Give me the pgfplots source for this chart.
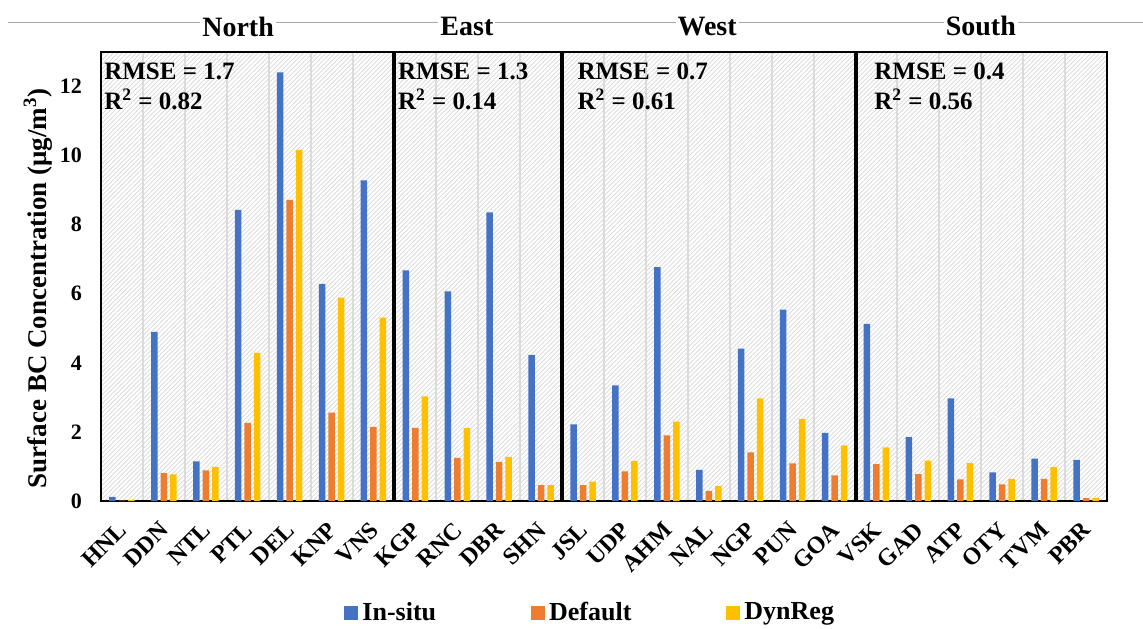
\documentclass[border=0pt]{standalone}
\usepackage{fontspec}
\setmainfont{Liberation Serif}
\usepackage{pgfplots}
\pgfplotsset{compat=1.18}
\usetikzlibrary{patterns.meta}
\definecolor{cblue}{HTML}{4472C4}
\definecolor{corange}{HTML}{ED7D31}
\definecolor{cyellow}{HTML}{FFC000}
\pgfplotstableread{
idx insitu default dynreg
0 0.12 0.01 0.03
1 4.90 0.81 0.77
2 1.15 0.89 0.99
3 8.43 2.26 4.29
4 12.41 8.72 10.17
5 6.29 2.56 5.89
6 9.28 2.15 5.31
7 6.68 2.12 3.03
8 6.07 1.25 2.12
9 8.36 1.13 1.28
10 4.23 0.46 0.46
11 2.22 0.46 0.56
12 3.35 0.86 1.16
13 6.77 1.90 2.30
14 0.90 0.29 0.43
15 4.41 1.41 2.97
16 5.54 1.09 2.38
17 1.97 0.74 1.61
18 5.13 1.07 1.55
19 1.85 0.78 1.17
20 2.97 0.63 1.10
21 0.83 0.48 0.64
22 1.23 0.64 0.99
23 1.19 0.08 0.09
}\datatable
\begin{document}
\begin{tikzpicture}
\begin{axis}[
  scale only axis,
  width=503pt, height=224.5pt,
  xmin=-0.5, xmax=23.5, ymin=0, ymax=13,
  ybar=1.5pt, bar width=3.25pt,
  xtick={0,...,23},
  xticklabels={HNL,DDN,NTL,PTL,DEL,KNP,VNS,KGP,RNC,DBR,SHN,JSL,UDP,AHM,NAL,NGP,PUN,GOA,VSK,GAD,ATP,OTY,TVM,PBR},
  minor xtick={-0.5,0.5,...,23.5},
  xminorgrids,
  minor grid style={black!14, line width=1pt},
  ytick={0,2,...,12},
  major tick length=0pt, minor tick length=0pt,
  axis line style={line width=0.9pt},
  /pgf/number format/assume math mode=true,
  yticklabel style={font=\fontsize{11}{13}\selectfont\bfseries, xshift=-6pt},
  xticklabel style={font=\fontsize{12}{14}\selectfont\bfseries, xshift=-2.5pt, yshift=-9.5pt, rotate=45, anchor=north east, inner sep=0pt},
  ylabel={Surface BC Concentration (μg/m\textsuperscript{3})},
  ylabel style={font=\fontsize{13.5}{15}\selectfont\bfseries, at={(axis description cs:-0.0626,0.474)}, rotate=0, anchor=center},
  axis background/.style={pattern={Lines[angle=45,distance=1.6pt,line width=0.35pt]}, pattern color=black!16},
  clip=false,
  legend columns=3,
  legend style={draw=none, fill=none, inner sep=0pt, font=\fontsize{13}{15}\selectfont\bfseries,
    at={(axis description cs:0.2416,-0.249)}, anchor=west,
    /tikz/every even column/.append style={column sep=45.5pt}},
  legend image code/.code={\fill[#1] (0pt,-3.5pt) rectangle (7pt,3.5pt);},
]
\addplot[draw=none, fill=cblue] table[x=idx, y=insitu] {\datatable};
\addplot[draw=none, fill=corange] table[x=idx, y=default] {\datatable};
\addplot[draw=none, fill=cyellow] table[x=idx, y=dynreg] {\datatable};
\legend{In-situ, Default, DynReg}
\coordinate (O) at (rel axis cs:0,0);
\draw[black!35, line width=0.6pt] (axis cs:-2.72,13.86) -- (axis cs:24.36,13.86);
\draw[line width=2pt] (axis cs:6.5,0) -- (axis cs:6.5,13);
\draw[line width=2pt] (axis cs:10.5,0) -- (axis cs:10.5,13);
\draw[line width=2pt] (axis cs:17.5,0) -- (axis cs:17.5,13);
\node[fill=white, inner sep=1pt, font=\fontsize{14}{16}\selectfont\bfseries] at (axis cs:2.77,13.74) {North};
\node[fill=white, inner sep=1pt, font=\fontsize{14}{16}\selectfont\bfseries] at (axis cs:8.23,13.74) {East};
\node[fill=white, inner sep=1pt, font=\fontsize{14}{16}\selectfont\bfseries] at (axis cs:13.96,13.74) {West};
\node[fill=white, inner sep=1pt, font=\fontsize{14}{16}\selectfont\bfseries] at (axis cs:20.49,13.74) {South};
\node[anchor=north west, inner sep=0pt, align=left, font=\fontsize{12.5}{15}\selectfont\bfseries] at (axis cs:-0.43,12.7) {RMSE = 1.7\\R\textsuperscript{2} = 0.82};
\node[anchor=north west, inner sep=0pt, align=left, font=\fontsize{12.5}{15}\selectfont\bfseries] at (axis cs:6.58,12.7) {RMSE = 1.3\\R\textsuperscript{2} = 0.14};
\node[anchor=north west, inner sep=0pt, align=left, font=\fontsize{12.5}{15}\selectfont\bfseries] at (axis cs:10.86,12.7) {RMSE = 0.7\\R\textsuperscript{2} = 0.61};
\node[anchor=north west, inner sep=0pt, align=left, font=\fontsize{12.5}{15}\selectfont\bfseries] at (axis cs:17.94,12.7) {RMSE = 0.4\\R\textsuperscript{2} = 0.56};
\end{axis}
\pgfresetboundingbox
\path[use as bounding box] ([shift={(-50.5pt,-63.5pt)}]O) rectangle ([shift={(521pt,250.5pt)}]O);
\end{tikzpicture}
\end{document}
